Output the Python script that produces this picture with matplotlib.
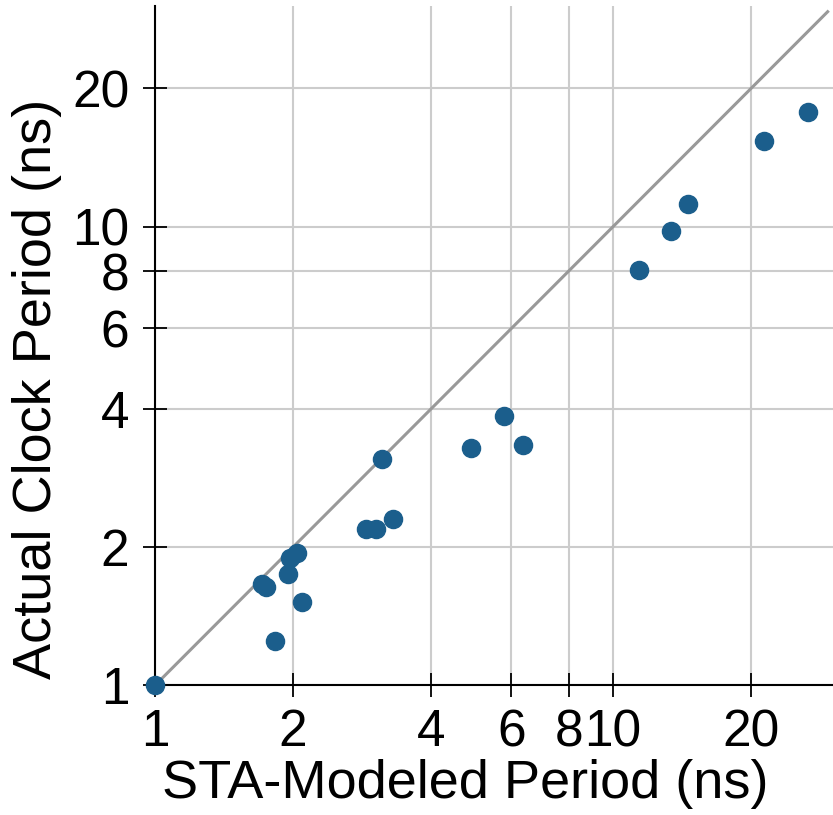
import numpy as np
import matplotlib.pyplot as plt
from matplotlib.ticker import NullFormatter, NullLocator

# STA-modeled period vs measured clock period (ns)
sta_period = [1.0, 1.71, 1.75, 1.83, 1.95, 1.97, 2.04, 2.09, 2.89, 3.03, 3.13, 3.31,
              4.89, 5.77, 6.35, 11.4, 13.4, 14.6, 21.3, 26.7]
actual_period = [1.0, 1.66, 1.64, 1.25, 1.75, 1.90, 1.94, 1.52, 2.19, 2.19, 3.11, 2.30,
                 3.29, 3.86, 3.34, 8.04, 9.78, 11.2, 15.4, 17.8]
tick_vals = [1, 2, 4, 6, 8, 10, 20]
tick_labels = ['1', '2', '4', '6', '8', '10', '20']

plt.rcParams['font.family'] = ['Liberation Sans', 'DejaVu Sans']

fig = plt.figure(figsize=(8.33, 8.15), dpi=100)
ax = fig.add_axes([0.186, 0.159, 0.814, 0.834])

ax.set_xscale('log')
ax.set_yscale('log')
ax.set_xlim(1, 30.2)
ax.set_ylim(1, 30.3)

ax.grid(True, color='#cccccc', linewidth=1.5, zorder=0)
ax.plot([1, 29.4], [1, 29.4], color='#999999', linewidth=2.2, zorder=2)
ax.scatter(sta_period, actual_period, s=170, color='#1b5e8c', zorder=3, clip_on=False)

for axis in (ax.xaxis, ax.yaxis):
    axis.set_minor_locator(NullLocator())
    axis.set_minor_formatter(NullFormatter())
ax.set_xticks(tick_vals)
ax.set_xticklabels(tick_labels)
ax.set_yticks(tick_vals)
ax.set_yticklabels(tick_labels)
ax.tick_params(direction='inout', length=17, width=1.3, labelsize=37, colors='black')
ax.tick_params(axis='x', pad=8)
ax.tick_params(axis='y', pad=10)

for side in ('top', 'right'):
    ax.spines[side].set_visible(False)
for side in ('left', 'bottom'):
    ax.spines[side].set_linewidth(1.5)
    ax.spines[side].set_color('black')

ax.set_xlabel('STA-Modeled Period (ns)', fontsize=39, labelpad=1)
ax.set_ylabel('Actual Clock Period (ns)', fontsize=39, labelpad=7)
ax.xaxis.label.set_x(0.457)
ax.yaxis.label.set_y(0.436)

fig.savefig('out.png', dpi=100)
